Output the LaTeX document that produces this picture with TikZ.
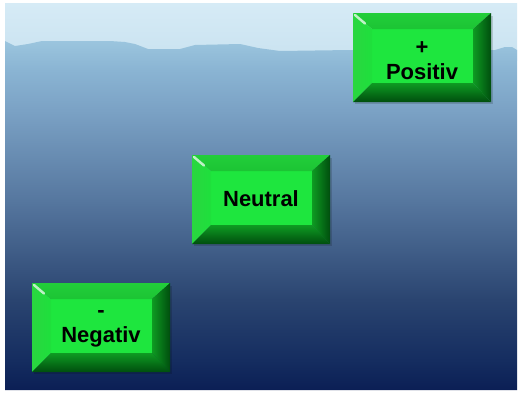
\documentclass[tikz,border=0pt]{standalone}
\usepackage{fontspec}
\setmainfont{Liberation Sans}
\usepackage{tikz}
\usetikzlibrary{shadings}
\definecolor{himmelA}{RGB}{214,235,246}
\definecolor{himmelB}{RGB}{201,226,240}
\definecolor{bergA}{RGB}{155,197,222}
\definecolor{bergB}{RGB}{138,180,211}
\definecolor{bergC}{RGB}{123,162,197}
\definecolor{bergD}{RGB}{86,119,159}
\definecolor{bergE}{RGB}{42,68,112}
\definecolor{bergF}{RGB}{21,45,96}
\definecolor{bergG}{RGB}{11,31,85}
\definecolor{tasteFace}{RGB}{30,230,62}
\definecolor{tasteTop}{RGB}{34,206,58}
\definecolor{tasteTopB}{RGB}{28,196,52}
\definecolor{tasteLeft}{RGB}{42,214,64}
\definecolor{tasteLeftB}{RGB}{30,224,60}
\definecolor{tasteDarkA}{RGB}{14,155,34}
\definecolor{tasteDarkB}{RGB}{0,78,14}
\pgfdeclareverticalshading{bergShade}{100bp}{color(0bp)=(bergG); color(25bp)=(bergG);
	color(29.3bp)=(bergF); color(37.9bp)=(bergE); color(52.2bp)=(bergD);
	color(65.1bp)=(bergC); color(70.8bp)=(bergB); color(75bp)=(bergA); color(100bp)=(bergA)}
\tikzset{tasteText/.style={font=\fontsize{12.5}{14.5}\selectfont\bfseries, align=center,
	inner sep=0pt, text=black}}
\newcommand{\drawTaste}[2] {
	\begin{scope}[shift={(#1,#2)}]
	\fill [black, opacity=0.15] (2,3) rectangle (140,91);
	\fill [tasteFace] (19,16) rectangle (120,70);
	\shade [top color=tasteTop, bottom color=tasteTopB]
		(0,0) -- (138,0) -- (120,16) -- (19,16) -- cycle;
	\shade [left color=tasteLeft, right color=tasteLeftB]
		(0,0) -- (19,16) -- (19,70) -- (0,89) -- cycle;
	\shade [left color=tasteDarkA, right color=tasteDarkB]
		(138,0) -- (138,89) -- (120,70) -- (120,16) -- cycle;
	\shade [top color=tasteDarkA, bottom color=tasteDarkB]
		(0,89) -- (19,70) -- (120,70) -- (138,89) -- cycle;
	\draw [white, line width=1.4pt, opacity=0.7, line cap=round] (2,2) -- (12,10.5);
	\end{scope}
}

\begin{document}
\begin{tikzpicture}[x=0.02cm, y=-0.02cm]

	\fill [white] (0,0) rectangle (520,392);
	\useasboundingbox (0,0) rectangle (520,392);

	% Himmel und Berge
	\shade [top color=himmelA, bottom color=himmelB] (5,3) rectangle (517,60);
	\shade [shading=bergShade] (5,41) -- (15,46) -- (28,44) -- (42,41) -- (110,41)
		-- (125,42) -- (135,44) -- (148,49) -- (180,49) -- (195,45) -- (240,44)
		-- (258,48) -- (280,51) -- (350,50) -- (495,50) -- (505,47) -- (512,47)
		-- (517,50) -- (517,390) -- (5,390) -- cycle;

	\drawTaste{353}{13};
	\drawTaste{192}{155};
	\drawTaste{32}{283};

	\node [tasteText] (positiv) at (422,62) {\strut +\\\strut Positiv};
	\node [tasteText] (neutral) at (261,201.5) {\strut Neutral};
	\node [tasteText] (negativ) at (101,325) {\strut -\\\strut Negativ};

\end{tikzpicture}
\end{document}
